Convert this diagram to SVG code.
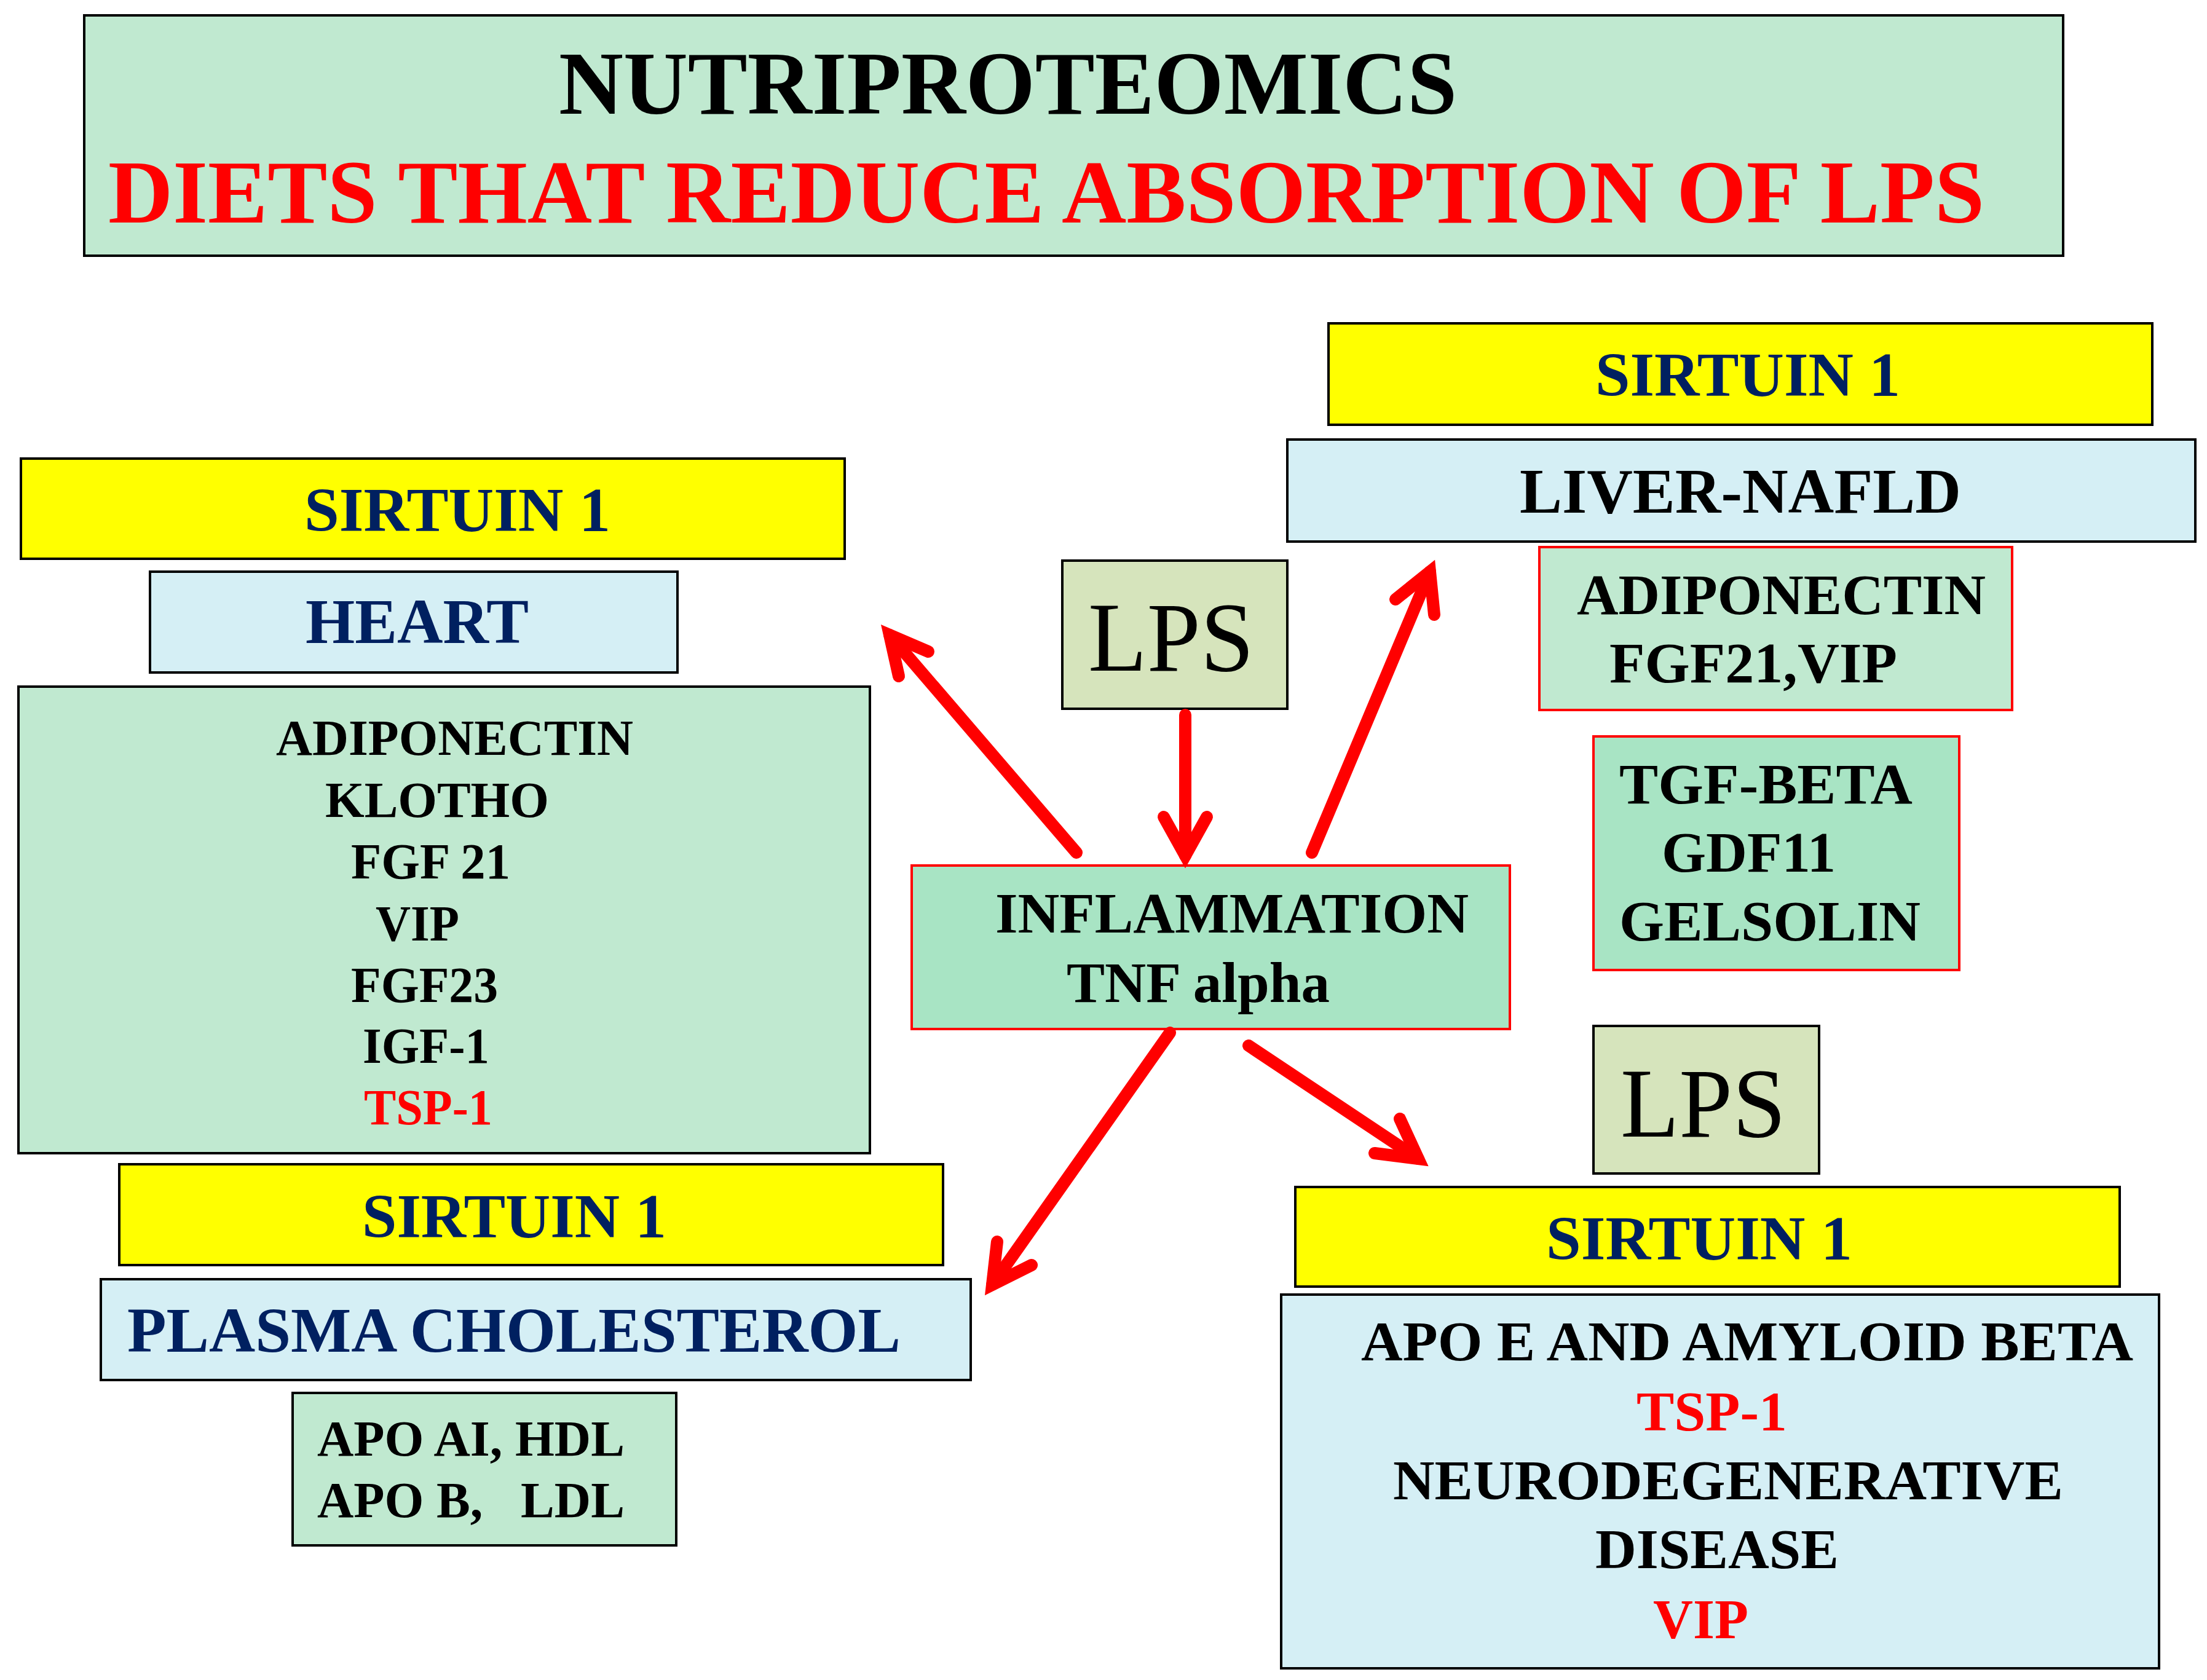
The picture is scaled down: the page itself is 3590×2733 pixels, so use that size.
<svg xmlns="http://www.w3.org/2000/svg" width="3590" height="2733" viewBox="0 0 3590 2733">
<style>
.box{stroke:#000;stroke-width:4}
.rb{stroke:#ff0000;stroke-width:4}
.mint{fill:#c0e9d0}
.green{fill:#a8e4c4}
.yel{fill:#ffff00}
.blue{fill:#d5eff5}
.olive{fill:#d6e4bc}
text{font-family:"Liberation Serif","Times New Roman",serif;font-weight:bold}
.navy{fill:#002060}
.blk{fill:#000}
.red{fill:#ff0000}
.lps{font-weight:normal;font-size:162px;fill:#000}
.arr{fill:none;stroke:#ff0000;stroke-width:20;stroke-linecap:round;stroke-linejoin:miter;stroke-miterlimit:6}
</style>
<rect width="3590" height="2733" fill="#fff"/>
<g id="title">
<rect class="box mint" x="137" y="25" width="3219" height="391"/>
<text class="blk" x="909" y="185" font-size="146" textLength="1461" lengthAdjust="spacingAndGlyphs">NUTRIPROTEOMICS</text>
<text class="red" x="176" y="362" font-size="146" textLength="3052" lengthAdjust="spacingAndGlyphs">DIETS THAT REDUCE ABSORPTION OF LPS</text>
</g>
<g id="sirtuin-heart">
<rect class="box yel" x="34" y="746" width="1340" height="163"/>
<text class="navy" x="495" y="864" font-size="102" textLength="498" lengthAdjust="spacingAndGlyphs">SIRTUIN 1</text>
</g>
<g id="heart">
<rect class="box blue" x="244" y="930" width="858" height="164"/>
<text class="navy" x="497" y="1046" font-size="104" textLength="363" lengthAdjust="spacingAndGlyphs">HEART</text>
</g>
<g id="heart-list">
<rect class="box mint" x="30" y="1117" width="1385" height="759"/>
<text class="blk" x="449" y="1228" font-size="82" textLength="581" lengthAdjust="spacingAndGlyphs">ADIPONECTIN</text>
<text class="blk" x="529" y="1329" font-size="82" textLength="364" lengthAdjust="spacingAndGlyphs">KLOTHO</text>
<text class="blk" x="571" y="1429" font-size="82" textLength="259" lengthAdjust="spacingAndGlyphs">FGF 21</text>
<text class="blk" x="611" y="1530" font-size="82" textLength="136" lengthAdjust="spacingAndGlyphs">VIP</text>
<text class="blk" x="571" y="1630" font-size="82" textLength="239" lengthAdjust="spacingAndGlyphs">FGF23</text>
<text class="blk" x="590" y="1729" font-size="82" textLength="206" lengthAdjust="spacingAndGlyphs">IGF-1</text>
<text class="red" x="592" y="1829" font-size="82" textLength="209" lengthAdjust="spacingAndGlyphs">TSP-1</text>
</g>
<g id="sirtuin-plasma">
<rect class="box yel" x="194" y="1894" width="1340" height="164"/>
<text class="navy" x="589" y="2013" font-size="102" textLength="495" lengthAdjust="spacingAndGlyphs">SIRTUIN 1</text>
</g>
<g id="plasma">
<rect class="box blue" x="164" y="2081" width="1415" height="164"/>
<text class="navy" x="207" y="2199" font-size="104" textLength="1258" lengthAdjust="spacingAndGlyphs">PLASMA CHOLESTEROL</text>
</g>
<g id="apo">
<rect class="box mint" x="476" y="2266" width="624" height="248"/>
<text class="blk" x="516" y="2368" font-size="82" textLength="500" lengthAdjust="spacingAndGlyphs">APO AI, HDL</text>
<text class="blk" x="516" y="2468" font-size="82" textLength="500" lengthAdjust="spacingAndGlyphs" xml:space="preserve">APO B,   LDL</text>
</g>
<g id="lps-top">
<rect class="box olive" x="1728" y="912" width="366" height="241"/>
<text class="lps" x="1770" y="1091" textLength="270" lengthAdjust="spacingAndGlyphs">LPS</text>
</g>
<g id="inflammation">
<rect class="rb green" x="1483" y="1408" width="973" height="266"/>
<text class="blk" x="1619" y="1517" font-size="94" textLength="770" lengthAdjust="spacingAndGlyphs">INFLAMMATION</text>
<text class="blk" x="1735" y="1630" font-size="94" textLength="428" lengthAdjust="spacingAndGlyphs">TNF alpha</text>
</g>
<g id="sirtuin-liver">
<rect class="box yel" x="2161" y="526" width="1340" height="165"/>
<text class="navy" x="2595" y="644" font-size="102" textLength="496" lengthAdjust="spacingAndGlyphs">SIRTUIN 1</text>
</g>
<g id="liver">
<rect class="box blue" x="2094" y="715" width="1477" height="166"/>
<text class="blk" x="2472" y="834" font-size="103" textLength="718" lengthAdjust="spacingAndGlyphs">LIVER-NAFLD</text>
</g>
<g id="liver-list1">
<rect class="rb mint" x="2504" y="890" width="769" height="265"/>
<text class="blk" x="2565" y="999" font-size="93" textLength="665" lengthAdjust="spacingAndGlyphs">ADIPONECTIN</text>
<text class="blk" x="2618" y="1110" font-size="93" textLength="468" lengthAdjust="spacingAndGlyphs">FGF21,VIP</text>
</g>
<g id="liver-list2">
<rect class="rb green" x="2592" y="1198" width="595" height="380"/>
<text class="blk" x="2634" y="1307" font-size="94" textLength="477" lengthAdjust="spacingAndGlyphs">TGF-BETA</text>
<text class="blk" x="2703" y="1418" font-size="94" textLength="283" lengthAdjust="spacingAndGlyphs">GDF11</text>
<text class="blk" x="2634" y="1530" font-size="94" textLength="490" lengthAdjust="spacingAndGlyphs">GELSOLIN</text>
</g>
<g id="lps-bottom">
<rect class="box olive" x="2592" y="1669" width="367" height="240"/>
<text class="lps" x="2636" y="1849" textLength="269" lengthAdjust="spacingAndGlyphs">LPS</text>
</g>
<g id="sirtuin-brain">
<rect class="box yel" x="2107" y="1931" width="1341" height="162"/>
<text class="navy" x="2515" y="2049" font-size="102" textLength="498" lengthAdjust="spacingAndGlyphs">SIRTUIN 1</text>
</g>
<g id="brain">
<rect class="box blue" x="2084" y="2106" width="1428" height="608"/>
<text class="blk" x="2214" y="2213" font-size="92" textLength="1256" lengthAdjust="spacingAndGlyphs">APO E AND AMYLOID BETA</text>
<text class="red" x="2662" y="2327" font-size="92" textLength="245" lengthAdjust="spacingAndGlyphs">TSP-1</text>
<text class="blk" x="2266" y="2439" font-size="92" textLength="1090" lengthAdjust="spacingAndGlyphs">NEURODEGENERATIVE</text>
<text class="blk" x="2595" y="2551" font-size="92" textLength="396" lengthAdjust="spacingAndGlyphs">DISEASE</text>
<text class="red" x="2689" y="2665" font-size="92" textLength="155" lengthAdjust="spacingAndGlyphs">VIP</text>
</g>
<g id="connectors">
<line class="arr" x1="1928" y1="1163" x2="1928" y2="1392"/>
<polyline class="arr" points="1893,1329 1928,1392 1963,1329"/>
<line class="arr" x1="1751" y1="1387" x2="1447" y2="1033"/>
<polyline class="arr" points="1462,1100 1447,1033 1510,1060"/>
<line class="arr" x1="2134" y1="1387" x2="2326" y2="930"/>
<polyline class="arr" points="2270,975 2326,930 2333,1000"/>
<line class="arr" x1="1903" y1="1680" x2="1614" y2="2090"/>
<polyline class="arr" points="1622,2020 1614,2090 1678,2058"/>
<line class="arr" x1="2031" y1="1701" x2="2307" y2="1885"/>
<polyline class="arr" points="2236,1876 2307,1885 2277,1820"/>
</g>
</svg>
